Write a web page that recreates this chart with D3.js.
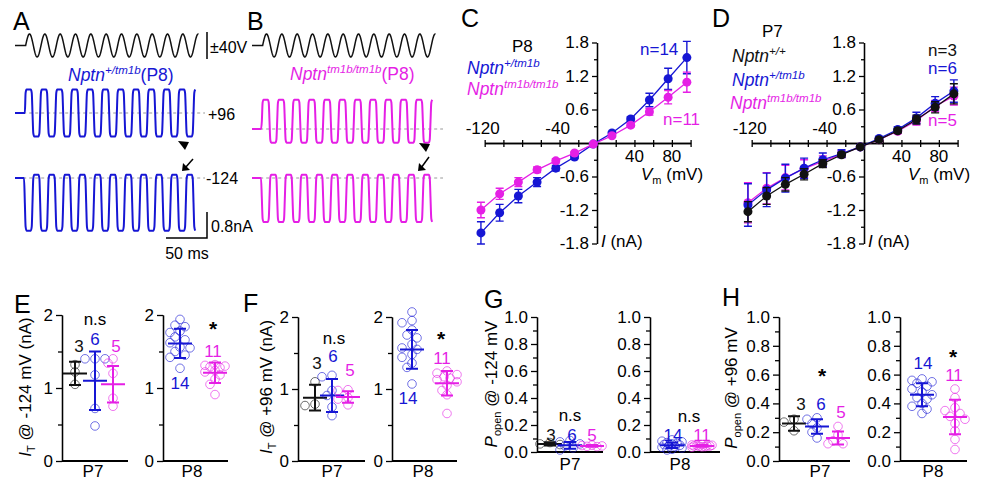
<!DOCTYPE html>
<html>
<head>
<meta charset="utf-8">
<script src="https://cdn.jsdelivr.net/npm/d3@7"></script>
<style>
  body { margin: 0; background: #fff; }
  text { font-family: "Liberation Sans", Arial, Helvetica, sans-serif; }
</style>
</head>
<body>
<svg id="fig" width="981" height="480"></svg>
<script>
const BLUE = "#1616d4", MAG = "#e51fe5", BLK = "#111";
const FONT = "'Liberation Sans', Arial, Helvetica, sans-serif";

// ---- A / B : stimulus and current traces (schematic, per-cycle levels)
const stimAmp = 40;          // V
const stimPeriod = 18.7;     // ms
const stimStart = 13, pulseStart = 12, pulseEnd = 224;   // ms
const levA96 = [0.72, -0.72];    // nA above/below dashed line (high, low)
const levA124 = [0.1, -1.62];
const levB96 = [0.9, -0.42];
const levB124 = [0.1, -1.35];
const traceShape = [[0, .5], [.05, .93], [.11, 1], [.39, 1], [.45, .93], [.5, .5], [.55, .07], [.61, 0], [.89, 0], [.95, .07], [1, .5]];

// ---- C / D : I-V curves
const vSteps = [-124, -104, -84, -64, -44, -24, -4, 16, 36, 56, 76, 96];
const ivP8Het   = [-1.61, -1.25, -0.95, -0.70, -0.45, -0.25, -0.02, 0.18, 0.43, 0.77, 1.15, 1.53];
const ivP8HetSd = [0.20, 0.15, 0.12, 0.08, 0.05, 0.03, 0.01, 0.02, 0.04, 0.12, 0.19, 0.29];
const ivP8Ko    = [-1.20, -0.91, -0.70, -0.48, -0.32, -0.18, -0.02, 0.13, 0.32, 0.56, 0.82, 1.09];
const ivP8KoSd  = [0.14, 0.10, 0.08, 0.05, 0.04, 0.02, 0.01, 0.02, 0.03, 0.06, 0.12, 0.18];
const ivP7Wt    = [-1.23, -0.95, -0.74, -0.56, -0.37, -0.21, -0.07, 0.06, 0.22, 0.42, 0.64, 0.88];
const ivP7WtSd  = [0.18, 0.15, 0.12, 0.10, 0.07, 0.04, 0.02, 0.02, 0.04, 0.08, 0.10, 0.18];
const ivP7Het   = [-1.11, -0.84, -0.63, -0.45, -0.30, -0.19, -0.07, 0.08, 0.24, 0.45, 0.71, 0.93];
const ivP7HetSd = [0.38, 0.30, 0.25, 0.18, 0.12, 0.07, 0.03, 0.03, 0.05, 0.10, 0.12, 0.20];
const ivP7Ko    = [-1.07, -0.81, -0.62, -0.46, -0.33, -0.20, -0.07, 0.06, 0.21, 0.40, 0.66, 0.84];
const ivP7KoSd  = [0.36, 0.28, 0.22, 0.16, 0.10, 0.06, 0.03, 0.03, 0.04, 0.08, 0.10, 0.16];
const ivYMajor = [-1.8, -1.2, -0.6, 0.6, 1.2, 1.8];
const ivYMinor = [-1.5, -0.9, -0.3, 0.3, 0.9, 1.5];
const ivXTicks = [-120, -100, -80, -60, -40, -20, 0, 20, 40, 60, 80, 100];
const ivXLabNeg = [-120, -40], ivXLabPos = [40, 80];

// ---- E : I_T @ -124 mV (nA)
const eP7Wt = [1.32, 1.22, 1.05];
const eP7Het = [1.40, 1.40, 1.40, 1.18, 0.72, 0.48];
const eP7Ko = [1.40, 1.34, 1.20, 0.86, 0.75];
const eP7Mean = [1.20, 1.10, 1.05], eP7Sd = [0.16, 0.40, 0.25];
const eP8Het = [1.94, 1.86, 1.84, 1.78, 1.76, 1.70, 1.66, 1.62, 1.56, 1.55, 1.50, 1.45, 1.42, 1.27];
const eP8Ko = [1.32, 1.31, 1.30, 1.29, 1.28, 1.24, 1.22, 1.18, 1.12, 1.05, 0.91];
const eP8Mean = [1.61, 1.21], eP8Sd = [0.20, 0.14];
// ---- F : I_T @ +96 mV (nA)
const fP7Wt = [1.10, 0.79, 0.77];
const fP7Het = [1.19, 1.17, 0.98, 0.91, 0.75, 0.63];
const fP7Ko = [0.99, 0.98, 0.88, 0.86, 0.78];
const fP7Mean = [0.88, 0.91, 0.89], fP7Sd = [0.18, 0.23, 0.08];
const fP8Het = [2.07, 1.95, 1.92, 1.82, 1.75, 1.71, 1.62, 1.57, 1.55, 1.48, 1.44, 1.36, 1.30, 1.07];
const fP8Ko = [1.25, 1.22, 1.20, 1.17, 1.15, 1.13, 1.10, 1.05, 0.98, 0.92, 0.66];
const fP8Mean = [1.55, 1.08], fP8Sd = [0.27, 0.17];
// ---- G : P_open @ -124 mV
const gP7Wt = [0.07, 0.06, 0.055];
const gP7Het = [0.085, 0.075, 0.06, 0.045, 0.03, 0.015];
const gP7Ko = [0.05, 0.048, 0.045, 0.042, 0.04];
const gP7Mean = [0.06, 0.05, 0.045], gP7Sd = [0.012, 0.025, 0.006];
const gP8Het = [0.09, 0.08, 0.075, 0.07, 0.065, 0.06, 0.055, 0.05, 0.045, 0.04, 0.035, 0.03, 0.02, 0.015];
const gP8Ko = [0.055, 0.052, 0.05, 0.048, 0.046, 0.045, 0.044, 0.042, 0.04, 0.038, 0.035];
const gP8Mean = [0.05, 0.045], gP8Sd = [0.02, 0.007];
// ---- H : P_open @ +96 mV
const hP7Wt = [0.29, 0.27, 0.21];
const hP7Het = [0.30, 0.29, 0.26, 0.23, 0.20, 0.16];
const hP7Ko = [0.24, 0.18, 0.14, 0.12, 0.12];
const hP7Mean = [0.26, 0.24, 0.16], hP7Sd = [0.05, 0.05, 0.045];
const hP8Het = [0.57, 0.56, 0.55, 0.54, 0.52, 0.50, 0.48, 0.46, 0.44, 0.43, 0.40, 0.38, 0.36, 0.33];
const hP8Ko = [0.50, 0.44, 0.37, 0.35, 0.33, 0.31, 0.29, 0.26, 0.21, 0.15, 0.08];
const hP8Mean = [0.46, 0.305], hP8Sd = [0.08, 0.12];

const svg = d3.select("#fig");
svg.append("rect").attr("width", 981).attr("height", 480).attr("fill", "#fff");

function label(g, x, y, str, o = {}) {
  return g.append("text").attr("x", x).attr("y", y)
    .attr("font-size", o.size || 17).attr("fill", o.color || "#000")
    .attr("text-anchor", o.anchor || "start")
    .attr("font-weight", o.weight || null)
    .text(str);
}

function gene(g, x, y, sup, color, size, tail) {
  const t = g.append("text").attr("x", x).attr("y", y).attr("fill", color).attr("font-size", size);
  t.append("tspan").attr("font-style", "italic").text("Nptn");
  t.append("tspan").attr("font-style", "italic").attr("font-size", size * 0.66).attr("dy", -size * 0.42).text(sup);
  if (tail) t.append("tspan").attr("dy", size * 0.42).text(tail);
  return t;
}

function styleAxis(ax, size) {
  ax.attr("font-family", FONT).attr("font-size", size || 17);
  ax.selectAll("path, line").attr("stroke", "#000").attr("stroke-width", 1.3);
  ax.selectAll("text").attr("fill", "#000");
}

// panel letters
[["A", 13, 30], ["B", 247, 30], ["C", 461, 27], ["D", 712, 27],
 ["E", 14, 313], ["F", 243, 312], ["G", 484, 308], ["H", 722, 306]]
  .forEach(([s, x, y]) => label(svg, x, y, s, { size: 25 }));

// ================= A / B traces =================
const naPxTrace = 32.5;   // 0.8 nA = 26 px
function tracePts(lev, phase0) {
  const [hi, lo] = lev;
  const pts = [[0, 0], [pulseStart - 1, 0]];
  const nCyc = Math.ceil((pulseEnd - pulseStart) / stimPeriod) + 2;
  for (let k = -1; k < nCyc; k++) for (const [p, s] of traceShape) {
    const t = pulseStart + (k + p - phase0) * stimPeriod;
    if (t >= pulseStart && t <= pulseEnd) pts.push([t, lo + s * (hi - lo)]);
  }
  return pts;
}
function stimPts() {
  const pts = [[0, 0], [stimStart, 0]];
  for (let t = stimStart; t <= pulseEnd; t += 0.4)
    pts.push([t, stimAmp * Math.sin(2 * Math.PI * (t - stimStart) / stimPeriod)]);
  return pts;
}

function tracePanel(x0, color, lev96, y96, lev124, y124, dashEnd) {
  const x = d3.scaleLinear().domain([0, 240]).range([x0, x0 + 240 * 0.82]);
  const yStim = d3.scaleLinear().domain([-stimAmp, stimAmp]).range([57, 34]);
  const g = svg.append("g");
  g.append("path").datum(stimPts())
    .attr("d", d3.line().x(d => x(d[0])).y(d => yStim(d[1])))
    .attr("fill", "none").attr("stroke", BLK).attr("stroke-width", 1.5);
  [[lev96, y96, 0], [lev124, y124, 0.5]].forEach(([lev, yz, ph]) => {
    const y = d3.scaleLinear().domain([0, 1]).range([yz, yz - naPxTrace]);
    g.append("line").attr("x1", x(pulseStart - 2)).attr("x2", dashEnd)
      .attr("y1", y(0)).attr("y2", y(0))
      .attr("stroke", "#999").attr("stroke-width", 1).attr("stroke-dasharray", "3,3");
    g.append("path").datum(tracePts(lev, ph))
      .attr("d", d3.line().x(d => x(d[0])).y(d => y(d[1])).curve(d3.curveMonotoneX))
      .attr("fill", "none").attr("stroke", color).attr("stroke-width", 2);
  });
  return { x, yStim };
}

const pA = tracePanel(15, BLUE, levA96, 113, levA124, 178, 205);
const pB = tracePanel(252, MAG, levB96, 129, levB124, 178, 443);

// stimulus scale bar
svg.append("line").attr("x1", 207).attr("x2", 207).attr("y1", 32).attr("y2", 59)
  .attr("stroke", "#000").attr("stroke-width", 1.5);
label(svg, 210, 53, "±40V", { size: 16 });
gene(svg, 68, 81, "+/tm1b", BLUE, 17.5, "(P8)");
gene(svg, 290, 80, "tm1b/tm1b", MAG, 17.5, "(P8)");
label(svg, 208, 120, "+96", { size: 16 });
label(svg, 206, 184, "-124", { size: 16 });

// current / time scale bar
svg.append("path").attr("d", "M207,212V238H166").attr("fill", "none")
  .attr("stroke", "#000").attr("stroke-width", 1.5);
label(svg, 211, 232, "0.8nA", { size: 16 });
label(svg, 187, 259, "50 ms", { size: 16, anchor: "middle" });

// arrowheads and arrows
function marker(tx, ty, ax1, ay1, ax2, ay2) {
  svg.append("path").attr("d", `M${tx - 6},${ty - 4}L${tx + 5},${ty - 3}L${tx + 1},${ty + 5}Z`).attr("fill", "#000");
  svg.append("line").attr("x1", ax1).attr("y1", ay1).attr("x2", ax2 + 3).attr("y2", ay2 - 3)
    .attr("stroke", "#000").attr("stroke-width", 1.5);
  svg.append("path").attr("d", `M${ax2},${ay2}L${ax2 + 1},${ay2 - 8}L${ax2 + 8},${ay2 - 1}Z`).attr("fill", "#000");
}
marker(184, 145, 193, 159, 182, 171);
marker(425, 147, 429, 157, 418, 171);

// ================= C / D : I-V =================
const mvPx = 0.936, naPx = 33.5 / 0.6;
function ivPanel(x0, yZero, series) {
  const x = d3.scaleLinear().domain([-120, 100]).range([x0 - 120 * mvPx, x0 + 100 * mvPx]);
  const y = d3.scaleLinear().domain([-1.8, 1.8]).range([yZero + 1.8 * naPx, yZero - 1.8 * naPx]);
  const g = svg.append("g");
  styleAxis(g.append("g").attr("transform", `translate(${x(0)},0)`)
    .call(d3.axisLeft(y).tickValues(ivYMajor).tickSize(5).tickSizeOuter(0).tickFormat(d => d.toFixed(1))));
  styleAxis(g.append("g").attr("transform", `translate(${x(0)},0)`)
    .call(d3.axisLeft(y).tickValues(ivYMinor).tickSize(3).tickSizeOuter(0).tickFormat("")));
  styleAxis(g.append("g").attr("transform", `translate(0,${y(0)})`)
    .call(d3.axisBottom(x).tickValues(ivXTicks).tickSize(4).tickSizeOuter(0).tickFormat("")));
  styleAxis(g.append("g").attr("transform", `translate(0,${y(0)})`)
    .call(d3.axisTop(x).tickValues(ivXTicks).tickSize(3).tickSizeOuter(0).tickFormat("")));
  ivXLabNeg.forEach(v => label(g, x(v) - 2, y(0) - 9, String(v), { anchor: "middle" }));
  ivXLabPos.forEach(v => label(g, x(v), y(0) + 19, String(v), { anchor: "middle" }));

  series.forEach(s => {
    g.append("path").datum(s.vals)
      .attr("d", d3.line().x((d, i) => x(vSteps[i])).y(d => y(d)))
      .attr("fill", "none").attr("stroke", s.color).attr("stroke-width", 1.3);
    s.vals.forEach((v, i) => {
      const cx = x(vSteps[i]), lo = y(v - s.sd[i]), hi = y(v + s.sd[i]);
      g.append("path").attr("d", `M${cx},${lo}V${hi}M${cx - 4},${lo}H${cx + 4}M${cx - 4},${hi}H${cx + 4}`)
        .attr("stroke", s.color).attr("stroke-width", 1.4).attr("fill", "none");
    });
    g.selectAll(null).data(s.vals).join("circle")
      .attr("cx", (d, i) => x(vSteps[i])).attr("cy", d => y(d)).attr("r", 4.5)
      .attr("fill", s.color);
  });
  // axis titles
  const vt = g.append("text").attr("x", x(0) + 44).attr("y", yZero + 37).attr("font-size", 17);
  vt.append("tspan").attr("font-style", "italic").text("V");
  vt.append("tspan").attr("font-size", 11).attr("dy", 4).text("m");
  vt.append("tspan").attr("dy", -4).text(" (mV)");
  const it = g.append("text").attr("x", x(0) + 4).attr("y", yZero + 104).attr("font-size", 17);
  it.append("tspan").attr("font-style", "italic").text("I");
  it.append("tspan").text(" (nA)");
  return g;
}

const gC = ivPanel(597, 143, [
  { vals: ivP8Het, sd: ivP8HetSd, color: BLUE },
  { vals: ivP8Ko, sd: ivP8KoSd, color: MAG }
]);
label(gC, 512, 52, "P8", { size: 17 });
gene(gC, 467, 74, "+/tm1b", BLUE, 17.5);
gene(gC, 467, 95, "tm1b/tm1b", MAG, 17.5);
label(gC, 640, 55, "n=14", { size: 17, color: BLUE });
label(gC, 663, 125, "n=11", { size: 17, color: MAG });

const gD = ivPanel(864, 143, [
  { vals: ivP7Ko, sd: ivP7KoSd, color: MAG },
  { vals: ivP7Het, sd: ivP7HetSd, color: BLUE },
  { vals: ivP7Wt, sd: ivP7WtSd, color: BLK }
]);
label(gD, 762, 37, "P7", { size: 17 });
gene(gD, 732, 62, "+/+", BLK, 17.5);
gene(gD, 732, 86, "+/tm1b", BLUE, 17.5);
gene(gD, 730, 109, "tm1b/tm1b", MAG, 17.5);
label(gD, 928, 56, "n=3", { size: 17, color: BLK });
label(gD, 928, 74, "n=6", { size: 17, color: BLUE });
label(gD, 928, 126, "n=5", { size: 17, color: MAG });

// ================= E - H : scatter with mean ± SD =================
function swarm(vals, y) {
  const placed = [];
  const offs = [0, -5, 5, -10, 10, -3, 3, -8, 8];
  return vals.map(v => {
    const py = y(v);
    let best = 0, bestD = -1;
    for (const off of offs) {
      const d = placed.length ? d3.min(placed, p => Math.hypot(p[0] - off, p[1] - py)) : 99;
      if (d >= 6.5) { best = off; break; }
      if (d > bestD) { bestD = d; best = off; }
    }
    placed.push([best, py]);
    return best;
  });
}

function dotPanel(c) {
  const y = d3.scaleLinear().domain([0, c.ymax]).range([c.y0, c.y1]);
  const g = svg.append("g");
  styleAxis(g.append("g").attr("transform", `translate(${c.ax},0)`)
    .call(d3.axisLeft(y).tickValues(c.major).tickSize(6).tickSizeOuter(0).tickFormat(c.fmt)));
  styleAxis(g.append("g").attr("transform", `translate(${c.ax},0)`)
    .call(d3.axisLeft(y).tickValues(c.minor).tickSize(4).tickSizeOuter(0).tickFormat("")));
  g.append("line").attr("x1", c.ax).attr("x2", c.xEnd).attr("y1", c.y0).attr("y2", c.y0)
    .attr("stroke", "#000").attr("stroke-width", 2);
  c.groups.forEach((gr, i) => {
    const offs = swarm(gr.vals, y);
    g.selectAll(null).data(gr.vals).join("circle")
      .attr("cx", (d, j) => gr.x + offs[j]).attr("cy", d => y(d)).attr("r", 4.3)
      .attr("fill", "none").attr("stroke", gr.color).attr("stroke-opacity", 0.6).attr("stroke-width", 1);
    const m = c.mean[i], s = c.sd[i];
    g.append("path")
      .attr("d", `M${gr.x - 12},${y(m)}H${gr.x + 12}M${gr.x},${y(m - s)}V${y(m + s)}` +
        `M${gr.x - 6},${y(m - s)}H${gr.x + 6}M${gr.x - 6},${y(m + s)}H${gr.x + 6}`)
      .attr("stroke", gr.color).attr("stroke-width", 2).attr("fill", "none");
  });
  label(g, c.labX, c.labY, c.lab, { size: 17, anchor: "middle" });
  return g;
}

function yTitle(cx, cy, main, sub, rest) {
  const t = svg.append("text").attr("transform", `translate(${cx},${cy}) rotate(-90)`)
    .attr("text-anchor", "middle").attr("font-size", 17).attr("dy", "0.35em");
  t.append("tspan").attr("font-style", "italic").text(main);
  t.append("tspan").attr("font-size", 11).attr("dy", 4).text(sub);
  t.append("tspan").attr("dy", -4).text(rest);
}

const intFmt = d3.format("d"), decFmt = d => d.toFixed(1);
const iMajor = [0, 1, 2], iMinor = [0.5, 1.5];
const pMajor = [0, 0.2, 0.4, 0.6, 0.8, 1.0], pMinor = [0.1, 0.3, 0.5, 0.7, 0.9];

// E
yTitle(25, 387, "I", "T", " @ -124 mV (nA)");
const gE7 = dotPanel({ ax: 62, y0: 461, y1: 315, ymax: 2, major: iMajor, minor: iMinor, fmt: intFmt, xEnd: 128,
  groups: [{ x: 75, vals: eP7Wt, color: BLK }, { x: 95, vals: eP7Het, color: BLUE }, { x: 113, vals: eP7Ko, color: MAG }],
  mean: eP7Mean, sd: eP7Sd, lab: "P7", labX: 93, labY: 477 });
label(gE7, 95, 325, "n.s", { anchor: "middle" });
label(gE7, 79, 352, "3", { anchor: "middle", color: BLK });
label(gE7, 95, 345, "6", { anchor: "middle", color: BLUE });
label(gE7, 116, 352, "5", { anchor: "middle", color: MAG });
const gE8 = dotPanel({ ax: 163, y0: 461, y1: 315, ymax: 2, major: iMajor, minor: iMinor, fmt: intFmt, xEnd: 228,
  groups: [{ x: 180, vals: eP8Het, color: BLUE }, { x: 215, vals: eP8Ko, color: MAG }],
  mean: eP8Mean, sd: eP8Sd, lab: "P8", labX: 192, labY: 477 });
label(gE8, 213, 336, "*", { anchor: "middle", size: 21, weight: "bold" });
label(gE8, 213, 357, "11", { anchor: "middle", color: MAG });
label(gE8, 180, 389, "14", { anchor: "middle", color: BLUE });

// F
yTitle(266, 387, "I", "T", " @ +96 mV (nA)");
const gF7 = dotPanel({ ax: 298, y0: 461, y1: 317, ymax: 2, major: iMajor, minor: iMinor, fmt: intFmt, xEnd: 365,
  groups: [{ x: 315, vals: fP7Wt, color: BLK }, { x: 332, vals: fP7Het, color: BLUE }, { x: 348, vals: fP7Ko, color: MAG }],
  mean: fP7Mean, sd: fP7Sd, lab: "P7", labX: 332, labY: 477 });
label(gF7, 334, 344, "n.s", { anchor: "middle" });
label(gF7, 317, 369, "3", { anchor: "middle", color: BLK });
label(gF7, 333, 362, "6", { anchor: "middle", color: BLUE });
label(gF7, 350, 376, "5", { anchor: "middle", color: MAG });
const gF8 = dotPanel({ ax: 392, y0: 461, y1: 317, ymax: 2, major: iMajor, minor: iMinor, fmt: intFmt, xEnd: 457,
  groups: [{ x: 412, vals: fP8Het, color: BLUE }, { x: 447, vals: fP8Ko, color: MAG }],
  mean: fP8Mean, sd: fP8Sd, lab: "P8", labX: 423, labY: 477 });
label(gF8, 441, 346, "*", { anchor: "middle", size: 21, weight: "bold" });
label(gF8, 442, 364, "11", { anchor: "middle", color: MAG });
label(gF8, 408, 404, "14", { anchor: "middle", color: BLUE });

// G
yTitle(491, 384, "P", "open", " @ -124 mV");
const gG7 = dotPanel({ ax: 537, y0: 452, y1: 317, ymax: 1, major: pMajor, minor: pMinor, fmt: decFmt, xEnd: 603,
  groups: [{ x: 550, vals: gP7Wt, color: BLK }, { x: 570, vals: gP7Het, color: BLUE }, { x: 592, vals: gP7Ko, color: MAG }],
  mean: gP7Mean, sd: gP7Sd, lab: "P7", labX: 570, labY: 470 });
label(gG7, 570, 421, "n.s", { anchor: "middle" });
label(gG7, 551, 441, "3", { anchor: "middle", color: BLK });
label(gG7, 572, 441, "6", { anchor: "middle", color: BLUE });
label(gG7, 592, 441, "5", { anchor: "middle", color: MAG });
const gG8 = dotPanel({ ax: 650, y0: 452, y1: 317, ymax: 1, major: pMajor, minor: pMinor, fmt: decFmt, xEnd: 720,
  groups: [{ x: 672, vals: gP8Het, color: BLUE }, { x: 702, vals: gP8Ko, color: MAG }],
  mean: gP8Mean, sd: gP8Sd, lab: "P8", labX: 680, labY: 470 });
label(gG8, 689, 422, "n.s", { anchor: "middle" });
label(gG8, 673, 441, "14", { anchor: "middle", color: BLUE });
label(gG8, 702, 441, "11", { anchor: "middle", color: MAG });

// H
yTitle(731, 388, "P", "open", " @ +96 mV");
const gH7 = dotPanel({ ax: 779, y0: 461, y1: 317, ymax: 1, major: pMajor, minor: pMinor, fmt: decFmt, xEnd: 850,
  groups: [{ x: 794, vals: hP7Wt, color: BLK }, { x: 817, vals: hP7Het, color: BLUE }, { x: 838, vals: hP7Ko, color: MAG }],
  mean: hP7Mean, sd: hP7Sd, lab: "P7", labX: 820, labY: 477 });
label(gH7, 822, 383, "*", { anchor: "middle", size: 21, weight: "bold" });
label(gH7, 801, 410, "3", { anchor: "middle", color: BLK });
label(gH7, 821, 410, "6", { anchor: "middle", color: BLUE });
label(gH7, 841, 418, "5", { anchor: "middle", color: MAG });
const gH8 = dotPanel({ ax: 900, y0: 461, y1: 317, ymax: 1, major: pMajor, minor: pMinor, fmt: decFmt, xEnd: 967,
  groups: [{ x: 922, vals: hP8Het, color: BLUE }, { x: 955, vals: hP8Ko, color: MAG }],
  mean: hP8Mean, sd: hP8Sd, lab: "P8", labX: 933, labY: 477 });
label(gH8, 923, 369, "14", { anchor: "middle", color: BLUE });
label(gH8, 953, 364, "*", { anchor: "middle", size: 21, weight: "bold" });
label(gH8, 954, 381, "11", { anchor: "middle", color: MAG });
</script>
</body>
</html>
